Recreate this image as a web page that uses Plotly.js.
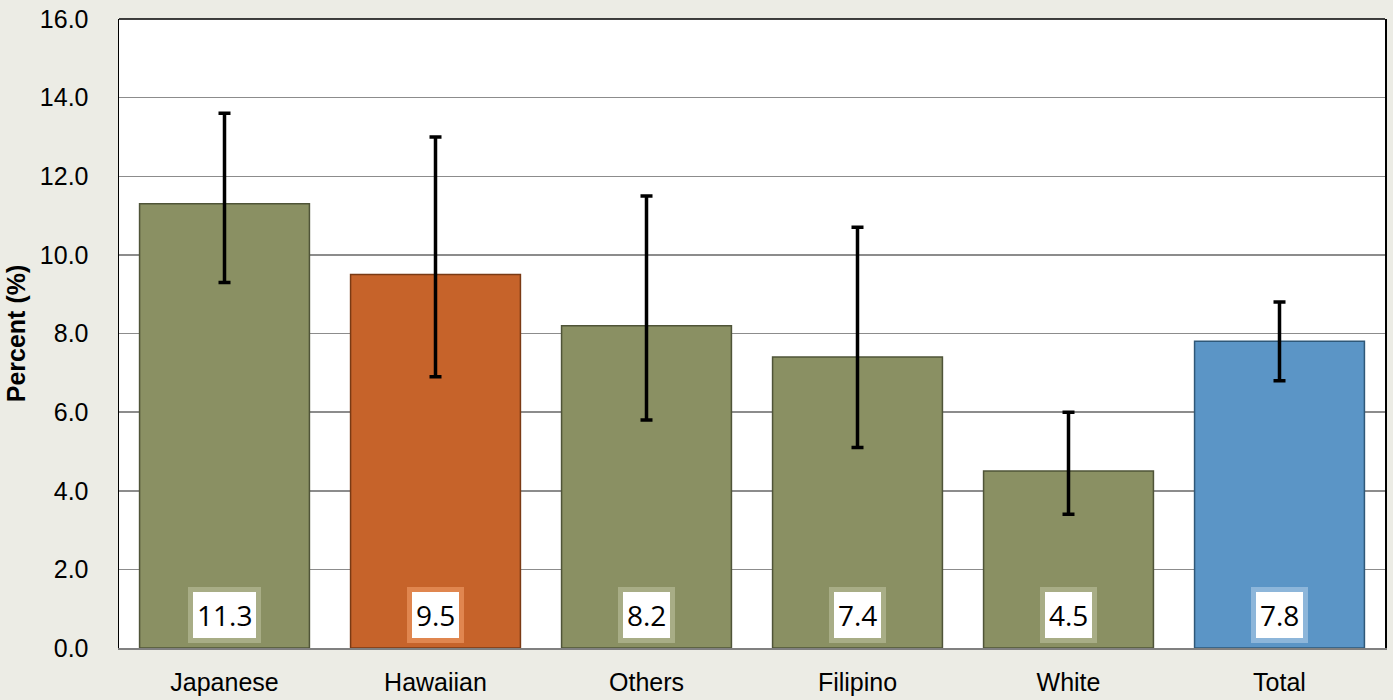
<!DOCTYPE html>
<html>
<head>
<meta charset="utf-8">
<script src="https://cdn.plot.ly/plotly-3.0.1.min.js"></script>
<style>html,body{margin:0;padding:0;background:#ECECE5;}#chart{width:1393px;height:700px;}</style>
</head>
<body>
<div id="chart"></div>
<script>
const categories = ["Japanese", "Hawaiian", "Others", "Filipino", "White", "Total"];
const values = [11.3, 9.5, 8.2, 7.4, 4.5, 7.8];
const upper = [13.6, 13.0, 11.5, 10.7, 6.0, 8.8];
const lower = [9.3, 6.9, 5.8, 5.1, 3.4, 6.8];
const yTicks = [0, 2, 4, 6, 8, 10, 12, 14, 16];

const barColors = ["#8A9063", "#C6632A", "#8A9063", "#8A9063", "#8A9063", "#5B95C6"];
const lineColors = ["#4F5438", "#7A3A14", "#4F5438", "#4F5438", "#4F5438", "#2F5878"];
const labelBorders = ["#A8AD86", "#E0864F", "#A8AD86", "#A8AD86", "#A8AD86", "#8DB6DA"];

const trace = {
  type: "bar",
  x: categories,
  y: values,
  width: 0.805,
  marker: { color: barColors, line: { color: lineColors, width: 1.5 } },
  error_y: {
    type: "data",
    symmetric: false,
    array: upper.map((u, i) => u - values[i]),
    arrayminus: lower.map((l, i) => values[i] - l),
    color: "#000000",
    thickness: 3.5,
    width: 6
  },
  hoverinfo: "none"
};

const annotations = categories.map((c, i) => ({
  x: c, y: 0, xref: "x", yref: "y",
  yanchor: "bottom", yshift: 5,
  text: values[i].toFixed(1),
  showarrow: false,
  font: { family: "Open Sans, sans-serif", size: 28, color: "#000" },
  bgcolor: "#FFFFFF",
  bordercolor: labelBorders[i],
  borderwidth: 5,
  borderpad: 4
}));

const layout = {
  width: 1393, height: 700,
  margin: { l: 119, r: 8, t: 19, b: 52 },
  paper_bgcolor: "#ECECE5",
  plot_bgcolor: "#FFFFFF",
  showlegend: false,
  bargap: 0.195,
  font: { family: "Liberation Sans, Arial, sans-serif", size: 25, color: "#000" },
  xaxis: {
    type: "category",
    showgrid: false,
    showline: true, linecolor: "#808080", linewidth: 2, mirror: false,
    ticks: "", ticklabelstandoff: 11,
    tickfont: { size: 25 }
  },
  yaxis: {
    range: [0, 16],
    tickvals: yTicks,
    ticktext: yTicks.map(v => v.toFixed(1)),
    showgrid: true, gridcolor: "#8C8C8C", gridwidth: 1.5,
    zeroline: false,
    showline: true, linecolor: "#000", linewidth: 1.5, mirror: true,
    ticks: "", ticklabelstandoff: 24,
    tickfont: { size: 25 },
    title: { text: "<b>Percent (%)</b>", font: { size: 25 }, standoff: 7 }
  },
  shapes: [{
    type: "line", xref: "paper", yref: "paper",
    x0: 0, x1: 1, y0: 1, y1: 1,
    line: { color: "#000", width: 1.5 }
  }],
  annotations: annotations
};

Plotly.newPlot("chart", [trace], layout, { displayModeBar: false, staticPlot: true });
</script>
</body>
</html>
